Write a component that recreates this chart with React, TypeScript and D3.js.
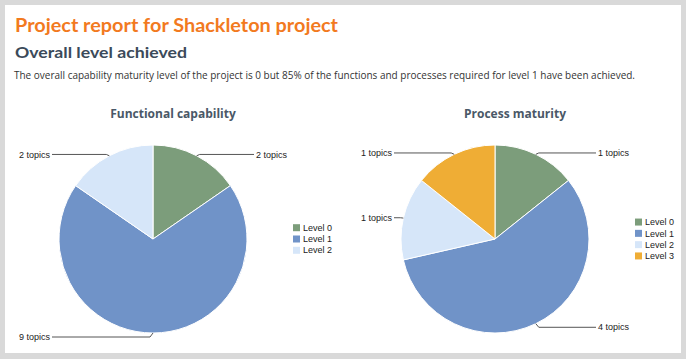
import React from "react";
import * as d3 from "d3";

const levels = ["Level 0", "Level 1", "Level 2", "Level 3"];
const colors = ["#7c9d7b", "#7093c8", "#d6e6f9", "#efad35"];

const functionalValues = [2, 9, 2];
const processValues = [1, 4, 1, 1];

const charts = [
  { title: "Functional capability", values: functionalValues, cx: 153 },
  { title: "Process maturity", values: processValues, cx: 495 },
];

const W = 686;
const H = 359;
const CY = 239;
const R = 94;

function Pie({ title, values, cx }: { title: string; values: number[]; cx: number }) {
  const pie = d3.pie<number>().value((d) => d).sort(null);
  const arcs = pie(values);
  const arcGen = d3.arc<d3.PieArcDatum<number>>().innerRadius(0).outerRadius(R);
  const legendY0 = CY - ((values.length - 1) * 11.3) / 2;
  return (
    <g>
      <text x={cx + 20} y={118} textAnchor="middle" fontFamily="'Open Sans', sans-serif" fontWeight={700} fontSize={12} fill="#4a5867">
        {title}
      </text>
      <g transform={`translate(${cx},${CY})`}>
        {arcs.map((a, i) => (
          <path key={i} d={arcGen(a) || ""} fill={colors[i]} stroke="#ffffff" strokeWidth={1} />
        ))}
      </g>
      {arcs.map((a, i) => {
        const mid = (a.startAngle + a.endAngle) / 2;
        const px = cx + R * Math.sin(mid);
        const py = CY - R * Math.cos(mid);
        const c = Math.cos(mid);
        const ly = py - (c < 0 ? 4 : 1.5) * c;
        const right = Math.sin(mid) >= 0.001;
        const ex = right ? px + 3 : px - 3;
        const tx = right ? cx + 101 : cx - 101;
        return (
          <g key={"l" + i}>
            <polyline points={`${px},${py} ${ex},${ly} ${tx},${ly}`} fill="none" stroke="#555" strokeWidth={1} />
            <text
              x={right ? tx + 2 : tx - 2}
              y={ly}
              dy="0.35em"
              textAnchor={right ? "start" : "end"}
              fontFamily="'Liberation Sans', Arial, sans-serif"
              fontSize={9}
              fill="#222"
            >
              {`${values[i]} topics`}
            </text>
          </g>
        );
      })}
      {values.map((_, i) => (
        <g key={"g" + i} transform={`translate(${cx + 140},${legendY0 + i * 11.3})`}>
          <rect x={0} y={-3.5} width={7} height={7} fill={colors[i]} />
          <text x={10} y={0} dy="0.35em" fontFamily="'Liberation Sans', Arial, sans-serif" fontSize={9} fill="#222">
            {levels[i]}
          </text>
        </g>
      ))}
    </g>
  );
}

export default function App() {
  return (
    <svg width={W} height={H} style={{ position: "absolute", left: 0, top: 0, display: "block" }}>
      <rect x={0} y={0} width={W} height={H} fill="#d9d9d9" />
      <rect x={5} y={5} width={676} height={348} fill="#ffffff" />
      <text x={15} y={32} fontFamily="Lato, 'Open Sans', sans-serif" fontWeight={700} fontSize={19} fill="#f27a1f" textLength={323} lengthAdjust="spacingAndGlyphs">
        Project report for Shackleton project
      </text>
      <text x={15} y={58} fontFamily="Lato, 'Open Sans', sans-serif" fontWeight={700} fontSize={15.5} fill="#3b4a5a" textLength={172} lengthAdjust="spacingAndGlyphs">
        Overall level achieved
      </text>
      <text x={14} y={79} fontFamily="'Open Sans', sans-serif" fontSize={10} fill="#333" textLength={621} lengthAdjust="spacingAndGlyphs">
        The overall capability maturity level of the project is 0 but 85% of the functions and processes required for level 1 have been achieved.
      </text>
      {charts.map((c) => (
        <Pie key={c.title} title={c.title} values={c.values} cx={c.cx} />
      ))}
    </svg>
  );
}
